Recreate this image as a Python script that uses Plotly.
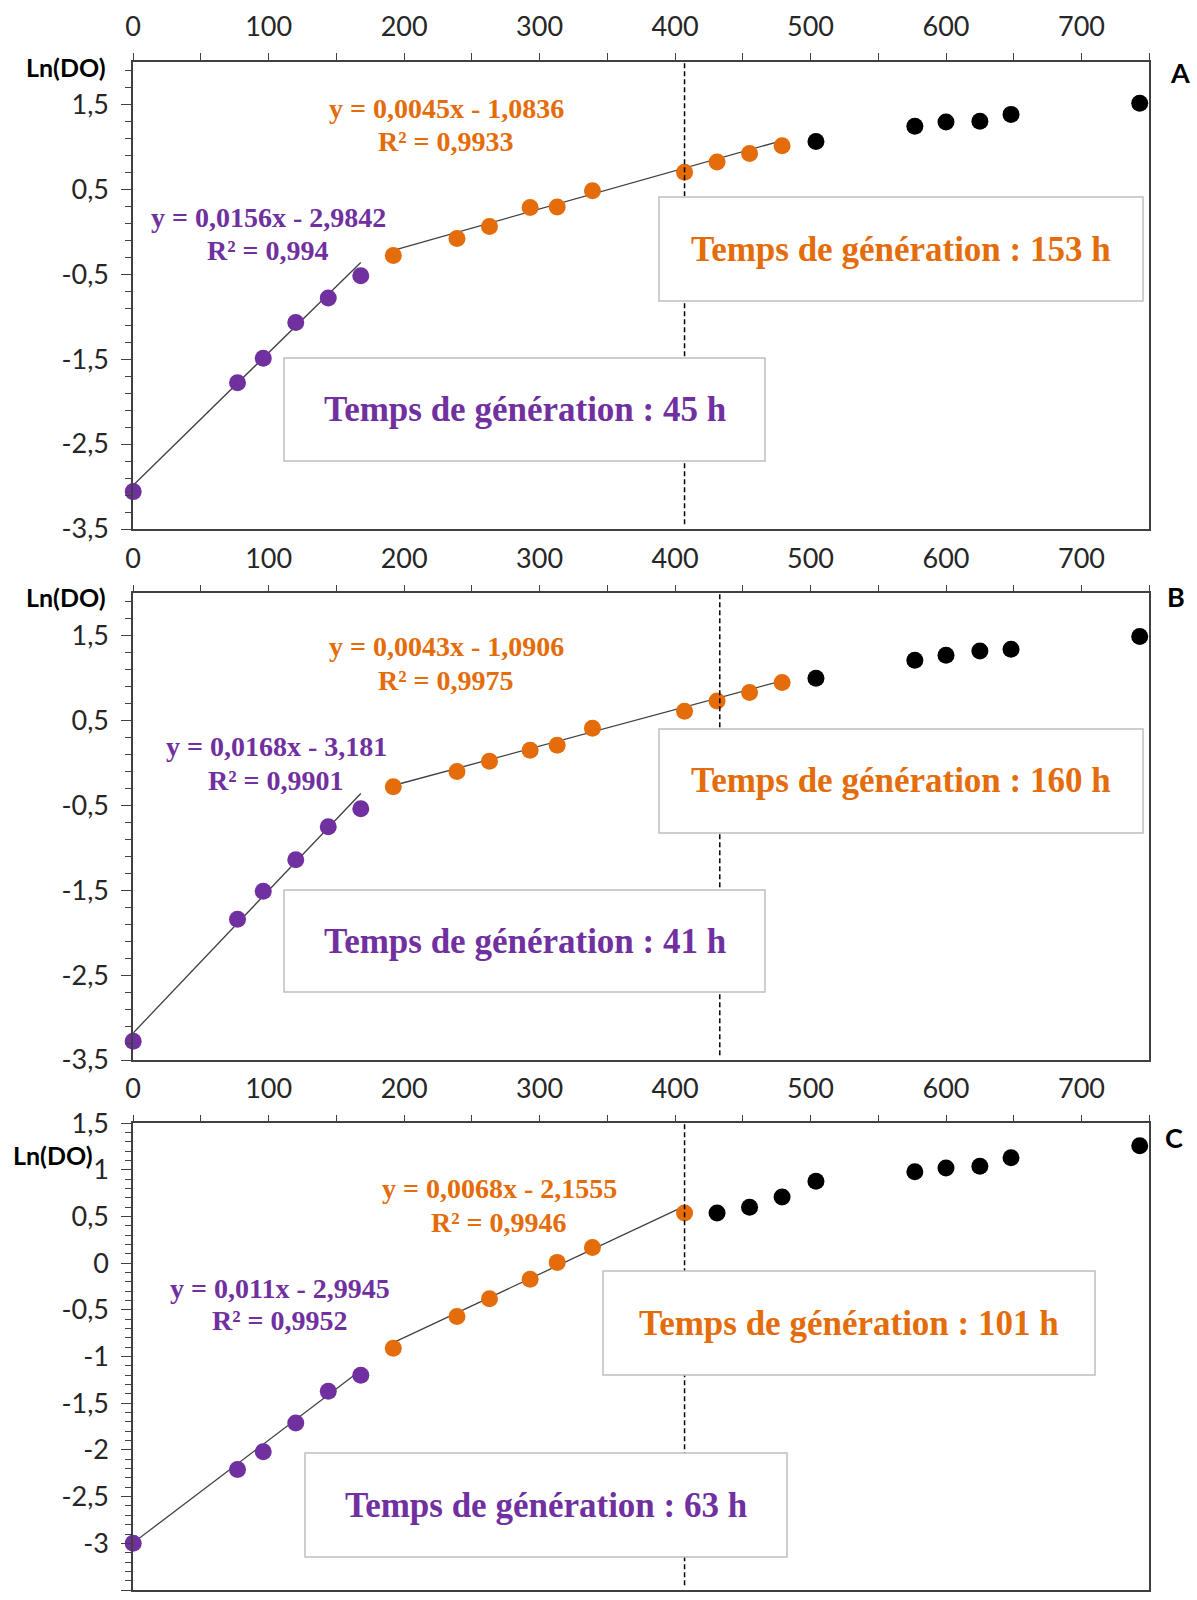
import plotly.graph_objects as go

# ---------------- data ----------------
purple_x = [0, 77, 96, 120, 144, 168]
orange_x = [192, 239, 263, 293, 313, 339, 407, 431, 455, 479]
black_x = [504, 577, 600, 625, 648, 743]

A_purple_y = [-3.06, -1.78, -1.49, -1.07, -0.78, -0.52]
A_orange_y = [-0.28, -0.08, 0.06, 0.285, 0.29, 0.48, 0.70, 0.82, 0.92, 1.01]
A_black_y = [1.06, 1.24, 1.29, 1.30, 1.38, 1.51]

B_purple_y = [-3.28, -1.84, -1.51, -1.14, -0.75, -0.54]
B_orange_y = [-0.28, -0.10, 0.02, 0.15, 0.21, 0.41, 0.61, 0.73, 0.83, 0.95]
B_black_y = [1.00, 1.21, 1.27, 1.32, 1.34, 1.49]

C_purple_y = [-3.00, -2.21, -2.02, -1.71, -1.37, -1.20]
C_orange_x = [192, 239, 263, 293, 313, 339, 407]
C_orange_y = [-0.91, -0.57, -0.38, -0.17, 0.01, 0.17, 0.54]
C_black_x = [431, 455, 479, 504, 577, 600, 625, 648, 743]
C_black_y = [0.54, 0.60, 0.71, 0.88, 0.98, 1.02, 1.04, 1.13, 1.26]

# trend line coefficients (slope, intercept)
A_fit = {"purple": (0.0156, -2.9842), "orange": (0.0045, -1.0836)}
B_fit = {"purple": (0.0168, -3.181), "orange": (0.0043, -1.0906)}
C_fit = {"purple": (0.011, -2.9945), "orange": (0.0068, -2.1555)}

A_eq = {"purple": ["y = 0,0156x - 2,9842", "R² = 0,994"],
        "orange": ["y = 0,0045x - 1,0836", "R² = 0,9933"]}
B_eq = {"purple": ["y = 0,0168x - 3,181", "R² = 0,9901"],
        "orange": ["y = 0,0043x - 1,0906", "R² = 0,9975"]}
C_eq = {"purple": ["y = 0,011x - 2,9945", "R² = 0,9952"],
        "orange": ["y = 0,0068x - 2,1555", "R² = 0,9946"]}

A_gen = {"purple": "Temps de génération : 45 h", "orange": "Temps de génération : 153 h"}
B_gen = {"purple": "Temps de génération : 41 h", "orange": "Temps de génération : 160 h"}
C_gen = {"purple": "Temps de génération : 63 h", "orange": "Temps de génération : 101 h"}

dashed_x = [407, 433, 407]
panel_letters = ["A", "B", "C"]
y_label = "Ln(DO)"

x_ticks = [0, 100, 200, 300, 400, 500, 600, 700]
AB_yticks = [-3.5, -2.5, -1.5, -0.5, 0.5, 1.5]
AB_yticktext = ["-3,5", "-2,5", "-1,5", "-0,5", "0,5", "1,5"]
C_yticks = [-3.5, -3, -2.5, -2, -1.5, -1, -0.5, 0, 0.5, 1, 1.5]
C_yticktext = ["-3,5", "-3", "-2,5", "-2", "-1,5", "-1", "-0,5", "0", "0,5", "1", "1,5"]

# ---------------- style ----------------
W, H = 1197, 1600
PURPLE = "#7030A0"
ORANGE = "#E46C0A"
AXIS = "#404040"
TICKFONT = dict(family="Lato", size=27, color="#262626")
EQFONT = 28
BOXFONT = 35


def fx(px):
    return px / W


def fy(py):
    return 1 - py / H


xdom = [fx(133.2), fx(1149.2)]
panels = [
    dict(name="A", ydom=[fy(529), fy(61.7)], yr=[-3.5, 2.0], yt=AB_yticks, ytt=AB_yticktext, ymin=0.2,
         px=purple_x, py=A_purple_y, ox=orange_x, oy=A_orange_y, bx=black_x, by=A_black_y,
         fit=A_fit, eq=A_eq, gen=A_gen, dash=dashed_x[0],
         ylab=(66, 67), letter=(1180, 72),
         eqpos={"orange": (446, 108, 141), "purple": (268, 217, 250)},
         boxes={"orange": (659, 1143, 197, 301), "purple": (284, 765, 358, 461)}),
    dict(name="B", ydom=[fy(1060), fy(593.3)], yr=[-3.5, 2.0], yt=AB_yticks, ytt=AB_yticktext, ymin=0.2,
         px=purple_x, py=B_purple_y, ox=orange_x, oy=B_orange_y, bx=black_x, by=B_black_y,
         fit=B_fit, eq=B_eq, gen=B_gen, dash=dashed_x[1],
         ylab=(66, 597), letter=(1176, 597),
         eqpos={"orange": (446, 647, 680), "purple": (276, 747, 780)},
         boxes={"orange": (659, 1143, 729, 833), "purple": (284, 765, 890, 992)}),
    dict(name="C", ydom=[fy(1590), fy(1123.3)], yr=[-3.5, 1.5], yt=C_yticks, ytt=C_yticktext, ymin=0.1,
         px=purple_x, py=C_purple_y, ox=C_orange_x, oy=C_orange_y, bx=C_black_x, by=C_black_y,
         fit=C_fit, eq=C_eq, gen=C_gen, dash=dashed_x[2],
         ylab=(53, 1155), letter=(1174, 1137),
         eqpos={"orange": (499, 1188, 1222), "purple": (280, 1288, 1320)},
         boxes={"orange": (603, 1095, 1271, 1375), "purple": (305, 787, 1453, 1557)}),
]

fig = go.Figure()
shapes_dash, shapes_box, annotations = [], [], []
layout = {}

for i, p in enumerate(panels):
    n = "" if i == 0 else str(i + 1)
    xa, ya = "x" + n, "y" + n
    colors = {"purple": PURPLE, "orange": ORANGE}
    # trend lines
    for key, xs in (("purple", p["px"]), ("orange", p["ox"])):
        s, b = p["fit"][key]
        x0, x1 = xs[0], xs[-1]
        fig.add_trace(go.Scatter(x=[x0, x1], y=[s * x0 + b, s * x1 + b], mode="lines",
                                 line=dict(color=AXIS, width=1.3), xaxis=xa, yaxis=ya,
                                 showlegend=False, hoverinfo="skip"))
    # points
    for xs, ys, c in ((p["px"], p["py"], PURPLE), (p["ox"], p["oy"], ORANGE), (p["bx"], p["by"], "#000000")):
        fig.add_trace(go.Scatter(x=xs, y=ys, mode="markers", marker=dict(color=c, size=17),
                                 cliponaxis=False, xaxis=xa, yaxis=ya, showlegend=False))
    # axes
    layout["xaxis" + n] = dict(domain=xdom, range=[0, 750], side="top", anchor=ya, automargin=False,
                               tickmode="array", tickvals=x_ticks, ticks="outside", ticklen=7,
                               tickwidth=1.3, tickcolor=AXIS, tickfont=TICKFONT,
                               ticklabelstandoff=6,
                               minor=dict(ticks="outside", ticklen=7, dtick=50, tick0=0,
                                          tickcolor=AXIS, tickwidth=1.3, showgrid=False),
                               showline=True, linecolor=AXIS, linewidth=1.6, mirror=True,
                               showgrid=False, zeroline=False)
    layout["yaxis" + n] = dict(domain=p["ydom"], range=p["yr"], anchor=xa, automargin=False,
                               tickmode="array", tickvals=p["yt"], ticktext=p["ytt"],
                               ticks="outside", ticklen=10, tickwidth=1.3, tickcolor=AXIS,
                               tickfont=TICKFONT, ticklabelstandoff=7,
                               minor=dict(ticks="outside", ticklen=6, dtick=p["ymin"], tick0=-3.5,
                                          tickcolor=AXIS, tickwidth=1.3, showgrid=False),
                               showline=True, linecolor=AXIS, linewidth=1.6, mirror=True,
                               showgrid=False, zeroline=False)
    # dashed line
    shapes_dash.append(dict(type="line", xref=xa, yref=ya + " domain", x0=p["dash"], x1=p["dash"],
                            y0=0.01, y1=1, line=dict(color="#000000", width=1.5, dash="5px,3px")))
    # boxes + texts
    for key in ("orange", "purple"):
        l, r, t, bt = p["boxes"][key]
        shapes_box.append(dict(type="rect", xref="paper", yref="paper", x0=fx(l), x1=fx(r),
                               y0=fy(bt), y1=fy(t), fillcolor="white",
                               line=dict(color="#BFBFBF", width=1.5)))
        annotations.append(dict(x=fx((l + r) / 2), y=fy((t + bt) / 2), xref="paper", yref="paper",
                                text=p["gen"][key], showarrow=False, xanchor="center", yanchor="middle",
                                font=dict(family="Liberation Serif", size=BOXFONT, color=colors[key],
                                          weight="bold")))
        cx, y1, y2 = p["eqpos"][key]
        for txt, yy in zip(p["eq"][key], (y1, y2)):
            annotations.append(dict(x=fx(cx), y=fy(yy), xref="paper", yref="paper", text=txt,
                                    showarrow=False, xanchor="center", yanchor="middle",
                                    font=dict(family="Liberation Serif", size=EQFONT, color=colors[key],
                                              weight="bold")))
    # y label & panel letter
    annotations.append(dict(x=fx(p["ylab"][0]), y=fy(p["ylab"][1]), xref="paper", yref="paper",
                            text=y_label, showarrow=False, xanchor="center", yanchor="middle",
                            font=dict(family="Lato", size=25, color="#000000", weight="bold")))
    annotations.append(dict(x=fx(p["letter"][0]), y=fy(p["letter"][1]), xref="paper", yref="paper",
                            text=panel_letters[i], showarrow=False, xanchor="center", yanchor="middle",
                            font=dict(family="Lato", size=27, color="#000000", weight="bold")))

fig.update_layout(width=W, height=H, margin=dict(l=0, r=0, t=0, b=0, autoexpand=False),
                  paper_bgcolor="white", plot_bgcolor="white",
                  shapes=shapes_dash + shapes_box, annotations=annotations, **layout)

fig.write_html("out.html", config={"displayModeBar": False},
               post_script="document.body.style.margin='0';")
